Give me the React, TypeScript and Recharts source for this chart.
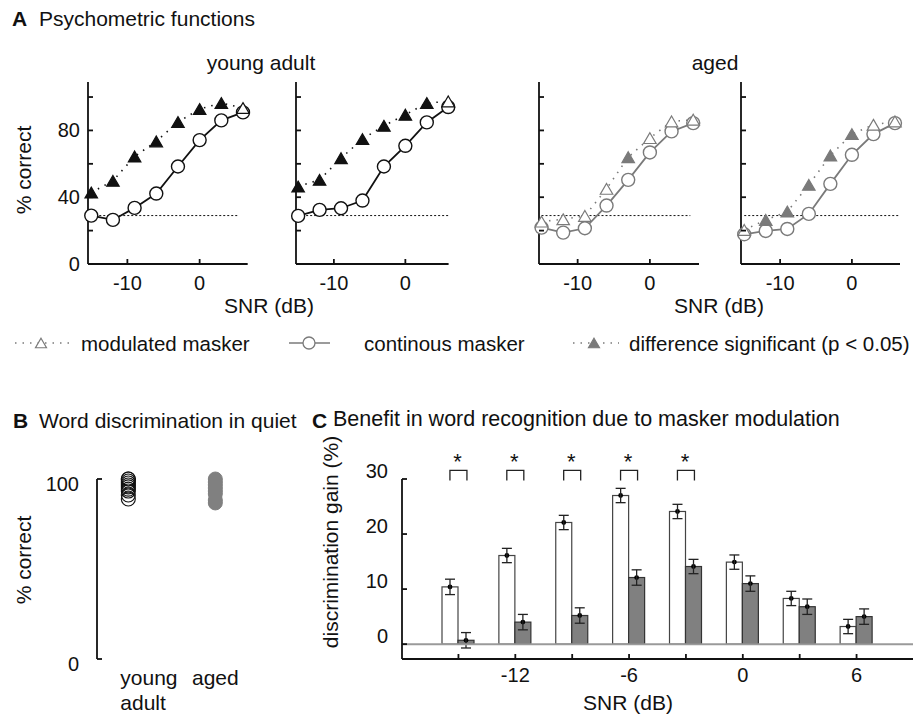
import React from "react";
import {
  LineChart,
  Line,
  XAxis,
  YAxis,
  ReferenceLine,
  ReferenceDot,
  ComposedChart,
  Bar,
  ErrorBar,
  ScatterChart,
  Scatter,
} from "recharts";

const FONT = '"Liberation Sans", Arial, Helvetica, sans-serif';
const INK = "#111";
const GREY = "#7a7a7a";

// SNR steps shared by all panels (dB)
const snr = [-15, -12, -9, -6, -3, 0, 3, 6];

// A: % correct, continuous vs modulated masker; 1 = difference significant
const youngLeftCont = [29.0, 26.4, 33.6, 42.2, 58.4, 74.2, 86.0, 90.8];
const youngLeftMod = [42.8, 49.8, 64.4, 73.4, 85.0, 92.8, 96.4, 93.4];
const youngLeftSig = [1, 1, 1, 1, 1, 1, 1, 0];

const youngRightCont = [28.8, 32.4, 33.4, 38.0, 58.4, 70.8, 84.8, 94.0];
const youngRightMod = [46.4, 50.4, 63.4, 74.8, 82.8, 89.4, 96.4, 97.4];
const youngRightSig = [1, 1, 1, 1, 1, 1, 1, 0];

const agedLeftCont = [21.8, 18.8, 21.4, 35.0, 50.4, 66.8, 79.4, 84.4];
const agedLeftMod = [25.4, 26.8, 28.8, 45.0, 64.0, 75.4, 85.4, 86.4];
const agedLeftSig = [0, 0, 0, 0, 1, 0, 0, 0];

const agedRightCont = [17.8, 19.8, 21.0, 30.0, 48.0, 65.4, 77.8, 84.4];
const agedRightMod = [20.4, 26.4, 31.4, 47.4, 65.0, 77.8, 83.4, 85.4];
const agedRightSig = [0, 1, 1, 1, 1, 1, 0, 0];

const chanceLevel = 29;
const pctTicks = [0, 20, 40, 60, 80, 100];
const pctLabels = [0, 40, 80];
const snrTicks = [-10, 0];

// B: word discrimination in quiet (% correct per listener)
const quietYoung = [100, 100, 98.9, 97.8, 96.7, 95.6, 94.4, 93.3, 91.1, 88.9];
const quietAged = [100, 98.3, 96.7, 95.0, 93.3, 91.7, 88.3, 86.7];
const groupLabels = [["young", "adult"], ["aged"]];

// C: discrimination gain (modulated minus continuous), mean and SEM
const gainYoung = [10.4, 16.1, 22.1, 27.0, 24.1, 14.9, 8.3, 3.2];
const gainYoungErr = [1.4, 1.3, 1.3, 1.3, 1.3, 1.3, 1.3, 1.3];
const gainAged = [0.7, 4.0, 5.2, 12.1, 14.1, 11.0, 6.8, 5.0];
const gainAgedErr = [1.4, 1.4, 1.4, 1.4, 1.3, 1.4, 1.4, 1.4];
const gainSignificant = [-15, -12, -9, -6, -3];
const gainTicks = [0, 10, 20, 30];
const gainLabels = [-12, -6, 0, 6];

const triPath = (cx: number, cy: number, s: number) => {
  const h = s * 0.866;
  return `M${cx},${cy - h / 2} L${cx + s / 2},${cy + h / 2} L${cx - s / 2},${cy + h / 2} Z`;
};

const Txt = ({ x, y, children, anchor = "start", bold = false, size = 21, rotate = false }: any) => {
  const tx = anchor === "middle" ? "-50%" : "0";
  return (
    <div
      style={{
        position: "absolute",
        left: x,
        top: y,
        fontSize: size,
        lineHeight: 1,
        whiteSpace: "nowrap",
        fontWeight: bold ? "bold" : "normal",
        transform: rotate ? "translate(-50%,-50%) rotate(-90deg)" : `translate(${tx},-50%)`,
      }}
    >
      {children}
    </div>
  );
};

// inward tick + label below
const BottomTick = ({ x, y, payload, show, dy = 19 }: any) => (
  <g>
    <line x1={x} x2={x} y1={y} y2={y - 5} stroke={INK} strokeWidth={1.8} />
    {show.includes(payload.value) && (
      <text x={x} y={y + dy} textAnchor="middle" dominantBaseline="central" fontSize={20} fontFamily={FONT} fill={INK}>
        {payload.value}
      </text>
    )}
  </g>
);

// inward tick + label to the left
const LeftTick = ({ x, y, payload, show, gap = 8, dy = 0 }: any) => (
  <g>
    <line x1={x} x2={x + 5} y1={y} y2={y} stroke={INK} strokeWidth={1.8} />
    {show.includes(payload.value) && (
      <text x={x - gap} y={y + dy} textAnchor="end" dominantBaseline="central" fontSize={20} fontFamily={FONT} fill={INK}>
        {payload.value}
      </text>
    )}
  </g>
);

type PsychoProps = {
  left: number;
  width: number;
  domain: [number, number];
  cont: number[];
  mod: number[];
  sig: number[];
  color: string;
  labels?: boolean;
  chanceTo: number;
};

function Psychometric({ left, width, domain, cont, mod, sig, color, labels, chanceTo }: PsychoProps) {
  const data = snr.map((x, i) => ({ snr: x, cont: cont[i], mod: mod[i], sig: sig[i] }));
  const yw = 60;
  const axis = { stroke: INK, strokeWidth: 1.8 };

  const circleDot = (p: any) => (
    <circle key={`c${p.index}`} cx={p.cx} cy={p.cy} r={6.5} fill="#fff" stroke={color} strokeWidth={1.4} />
  );
  const triDot = (p: any) => {
    const filled = p.payload.sig === 1;
    return (
      <path
        key={`t${p.index}`}
        d={triPath(p.cx, p.cy, 12.5)}
        fill={filled ? color : "#fff"}
        stroke={color}
        strokeWidth={1.2}
        strokeLinejoin="miter"
      />
    );
  };

  return (
    <div style={{ position: "absolute", left: left - yw, top: 70 }}>
      <LineChart width={yw + width + 10} height={12 + 182 + 40} data={data} margin={{ top: 12, right: 10, bottom: 0, left: 0 }}>
        <XAxis
          type="number"
          dataKey="snr"
          domain={domain}
          ticks={snrTicks}
          height={40}
          tickSize={0}
          tickMargin={0}
          tickLine={false}
          axisLine={axis}
          tick={<BottomTick show={snrTicks} />}
        />
        <YAxis
          type="number"
          domain={[0, 109]}
          ticks={pctTicks}
          width={yw}
          tickSize={0}
          tickMargin={0}
          tickLine={false}
          axisLine={axis}
          tick={<LeftTick show={labels ? pctLabels : []} />}
        />
        <ReferenceLine
          segment={[
            { x: -15, y: chanceLevel },
            { x: chanceTo, y: chanceLevel },
          ]}
          stroke={INK}
          strokeWidth={1}
          strokeDasharray="2 2"
        />
        <Line type="linear" dataKey="cont" stroke={color} strokeWidth={1.8} dot={circleDot} isAnimationActive={false} />
        <Line
          type="linear"
          dataKey="mod"
          stroke={color}
          strokeWidth={1.6}
          strokeDasharray="1.5 6"
          dot={triDot}
          isAnimationActive={false}
        />
      </LineChart>
    </div>
  );
}

function QuietPanel() {
  const young = quietYoung.map((v) => ({ g: 0, v }));
  const aged = quietAged.map((v) => ({ g: 1, v }));
  const yw = 60;
  const GroupTick = ({ x, y, payload }: any) => {
    const lines = groupLabels[payload.value] || [];
    const first = payload.value === 0;
    return (
      <g>
        {lines.map((t: string, i: number) => (
          <text
            key={t}
            x={first ? x - 8 : x}
            y={y + 18 + i * 25}
            textAnchor={first ? "start" : "middle"}
            dominantBaseline="central"
            fontSize={21}
            fontFamily={FONT}
            fill={INK}
          >
            {t}
          </text>
        ))}
      </g>
    );
  };
  return (
    <div style={{ position: "absolute", left: 97 - yw, top: 439 }}>
      <ScatterChart width={yw + 174 + 6} height={40 + 180 + 60} margin={{ top: 40, right: 6, bottom: 0, left: 0 }}>
        <XAxis
          type="number"
          dataKey="g"
          domain={[-0.36, 1.64]}
          ticks={[0, 1]}
          height={60}
          tickSize={0}
          tickMargin={0}
          axisLine={false}
          tickLine={false}
          tick={<GroupTick />}
        />
        <YAxis
          type="number"
          dataKey="v"
          domain={[0, 100]}
          ticks={[0, 100]}
          width={yw}
          tickSize={0}
          tickMargin={0}
          tickLine={false}
          axisLine={{ stroke: INK, strokeWidth: 1.8 }}
          tick={<LeftTick show={[0, 100]} gap={18} dy={5} />}
        />
        <Scatter
          data={young}
          isAnimationActive={false}
          shape={(p: any) => <circle cx={p.cx} cy={p.cy} r={7} fill="none" stroke={INK} strokeWidth={1.1} />}
        />
        <Scatter
          data={aged}
          isAnimationActive={false}
          shape={(p: any) => <circle cx={p.cx} cy={p.cy} r={7} fill="#808080" stroke="#808080" strokeWidth={1} />}
        />
      </ScatterChart>
    </div>
  );
}

function GainPanel() {
  const data = snr.map((x, i) => ({
    snr: x,
    young: gainYoung[i],
    youngErr: gainYoungErr[i],
    aged: gainAged[i],
    agedErr: gainAgedErr[i],
  }));
  const yw = 50;
  const barWithDot = (p: any) => (
    <g>
      <rect x={p.x} y={p.y} width={p.width} height={p.height} fill={p.fill} stroke={p.stroke} strokeWidth={1.2} />
      <circle cx={p.x + p.width / 2} cy={p.y} r={2.4} fill="#000" />
    </g>
  );
  const bracket = (p: any) => (
    <g>
      <path
        d={`M${p.cx - 8.5},${p.cy + 1.4} V${p.cy - 8.6} H${p.cx + 8.5} V${p.cy + 1.4}`}
        fill="none"
        stroke="#222"
        strokeWidth={1.3}
      />
      <text x={p.cx - 1} y={p.cy - 10} textAnchor="middle" fontSize={22} fontFamily={FONT} fill={INK}>
        *
      </text>
    </g>
  );
  return (
    <div style={{ position: "absolute", left: 402 - yw, top: 439 }}>
      <ComposedChart
        width={yw + 511 + 4}
        height={40 + 180 + 30}
        data={data}
        margin={{ top: 40, right: 4, bottom: 0, left: 0 }}
        barSize={16}
        barGap={0}
      >
        <XAxis
          dataKey="snr"
          padding={{ left: 28, right: 28 }}
          height={30}
          interval={0}
          tickSize={0}
          tickMargin={0}
          tickLine={false}
          axisLine={{ stroke: INK, strokeWidth: 1.8 }}
          tick={<BottomTick show={gainLabels} dy={16} />}
        />
        <YAxis
          type="number"
          domain={[-2.7, 30]}
          ticks={gainTicks}
          width={yw}
          tickSize={0}
          tickMargin={0}
          tickLine={false}
          axisLine={{ stroke: INK, strokeWidth: 1.8 }}
          tick={<LeftTick show={gainTicks} gap={14} dy={-8} />}
        />
        <Bar dataKey="young" fill="#fff" stroke="#444" shape={barWithDot} isAnimationActive={false}>
          <ErrorBar dataKey="youngErr" width={5} stroke="#222" strokeWidth={1.3} />
        </Bar>
        <Bar dataKey="aged" fill="#808080" stroke="#333" shape={barWithDot} isAnimationActive={false}>
          <ErrorBar dataKey="agedErr" width={5} stroke="#222" strokeWidth={1.3} />
        </Bar>
        <ReferenceLine y={0} stroke="#9a9a9a" strokeWidth={2} />
        {gainSignificant.map((x) => (
          <ReferenceDot key={x} x={x} y={30} r={0} ifOverflow="visible" shape={bracket} />
        ))}
      </ComposedChart>
    </div>
  );
}

function MaskerLegend() {
  const y = 15;
  const txt = { fontSize: 20.5, fontFamily: FONT, fill: INK, dominantBaseline: "central" } as any;
  return (
    <svg width={919} height={30} style={{ position: "absolute", left: 0, top: 343 - y }}>
      <line x1={15} x2={71} y1={y} y2={y} stroke={GREY} strokeWidth={1.5} strokeDasharray="1.5 6" />
      <path d={triPath(41, y, 11)} fill="#fff" stroke={GREY} strokeWidth={1.2} />
      <text x={81} y={y} {...txt}>modulated masker</text>
      <line x1={289} x2={330} y1={y} y2={y} stroke={GREY} strokeWidth={1.5} />
      <circle cx={309} cy={y} r={6} fill="#fff" stroke={GREY} strokeWidth={1.3} />
      <text x={364} y={y} {...txt}>continous masker</text>
      <line x1={573} x2={619} y1={y} y2={y} stroke={GREY} strokeWidth={1.5} strokeDasharray="1.5 6" />
      <path d={triPath(594, y, 11)} fill={GREY} stroke={GREY} strokeWidth={1.2} />
      <text x={629} y={y} {...txt}>difference significant (p &lt; 0.05)</text>
    </svg>
  );
}

export default function App() {
  return (
    <div
      style={{
        position: "absolute",
        left: 0,
        top: 0,
        width: 919,
        height: 715,
        background: "#fff",
        fontFamily: FONT,
        color: INK,
        overflow: "hidden",
      }}
    >
      <Txt x={12} y={18} bold>A</Txt>
      <Txt x={39} y={18}>Psychometric functions</Txt>
      <Txt x={261} y={62} anchor="middle">young adult</Txt>
      <Txt x={715} y={62} anchor="middle">aged</Txt>
      <Txt x={23} y={170} rotate>% correct</Txt>

      <Psychometric left={88.3} width={159.7} domain={[-15.45, 6.65]} cont={youngLeftCont} mod={youngLeftMod} sig={youngLeftSig} color={INK} labels chanceTo={5.4} />
      <Psychometric left={295.7} width={152.6} domain={[-15.3, 6.05]} cont={youngRightCont} mod={youngRightMod} sig={youngRightSig} color={INK} chanceTo={6.0} />
      <Psychometric left={538.5} width={160} domain={[-15.35, 6.8]} cont={agedLeftCont} mod={agedLeftMod} sig={agedLeftSig} color={GREY} chanceTo={5.6} />
      <Psychometric left={741} width={159} domain={[-15.45, 6.7]} cont={agedRightCont} mod={agedRightMod} sig={agedRightSig} color={GREY} chanceTo={6.7} />

      <Txt x={269} y={305} anchor="middle">SNR (dB)</Txt>
      <Txt x={719} y={305} anchor="middle">SNR (dB)</Txt>

      <MaskerLegend />

      <Txt x={13} y={420} bold>B</Txt>
      <Txt x={39} y={420}>Word discrimination in quiet</Txt>
      <Txt x={23} y={560} rotate>% correct</Txt>
      <QuietPanel />

      <Txt x={312} y={420} bold>C</Txt>
      <Txt x={333} y={420} size={21.5}>Benefit in word recognition due to masker modulation</Txt>
      <Txt x={330} y={542} rotate>discrimination gain (%)</Txt>
      <GainPanel />
      <Txt x={628} y={702} anchor="middle">SNR (dB)</Txt>
    </div>
  );
}
